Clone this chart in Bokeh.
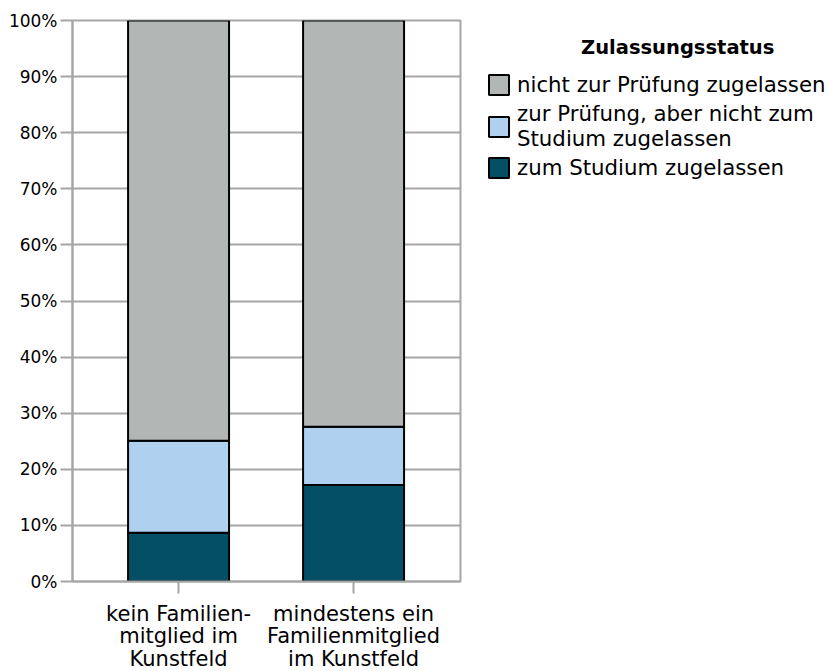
from bokeh.plotting import figure
from bokeh.models import ColumnDataSource, Legend, LegendItem, Range1d, FixedTicker
from bokeh.embed import file_html
from bokeh.resources import INLINE

categories = ["kein Familien-\nmitglied im\nKunstfeld", "mindestens ein\nFamilienmitglied\nim Kunstfeld"]
zum_studium = [8.7, 17.2]
zur_pruefung = [16.4, 10.4]
nicht_zugelassen = [74.9, 72.4]
series_names = ["zum Studium zugelassen", "zur Prüfung, aber nicht zum\nStudium zugelassen", "nicht zur Prüfung zugelassen"]
series_colors = ["#054f66", "#afd0ee", "#b2b6b5"]
y_ticks = [0, 10, 20, 30, 40, 50, 60, 70, 80, 90, 100]
legend_title = "Zulassungsstatus"

FONT = "DejaVu Sans"
GRID = "#a6a6a6"

xs = [i + 1 for i in range(len(categories))]
series = [zum_studium, zur_pruefung, nicht_zugelassen]

p = figure(frame_width=388, frame_height=561, output_backend="svg", toolbar_location=None,
           x_range=Range1d(0.394, 2.611), y_range=Range1d(0, 100),
           min_border_left=72, min_border_top=20, min_border_right=360, min_border_bottom=80)
p.outline_line_color = GRID
p.outline_line_width = 2
p.background_fill_color = "white"
p.border_fill_color = "white"

bottoms = [0.0] * len(xs)
renderers = []
for vals, col in zip(series, series_colors):
    tops = [b + v for b, v in zip(bottoms, vals)]
    src = ColumnDataSource(dict(x=xs, bottom=bottoms, top=tops))
    r = p.vbar(x="x", bottom="bottom", top="top", width=0.577, source=src,
               fill_color=col, line_color="black", line_width=2)
    renderers.append(r)
    bottoms = tops

# axes
p.xaxis.ticker = FixedTicker(ticks=xs)
p.xaxis.major_label_overrides = {x: c for x, c in zip(xs, categories)}
p.yaxis.ticker = FixedTicker(ticks=y_ticks)
p.yaxis.major_label_overrides = {t: f"{t}%" for t in y_ticks}
for ax in (p.xaxis[0], p.yaxis[0]):
    ax.axis_line_color = GRID
    ax.axis_line_width = 2
    ax.major_tick_line_color = GRID
    ax.major_tick_line_width = 2
    ax.major_tick_out = 12
    ax.major_tick_in = 0
    ax.minor_tick_line_color = None
    ax.major_label_text_font = FONT
    ax.major_label_text_color = "black"
p.yaxis.major_label_text_font_size = "17px"
p.yaxis.major_label_standoff = 3
p.xaxis.major_label_text_font_size = "21px"
p.xaxis.major_label_text_line_height = 0.95
p.xaxis.major_label_standoff = 8
p.xgrid.grid_line_color = None
p.ygrid.grid_line_color = GRID
p.ygrid.grid_line_width = 2

items = [LegendItem(label=n, renderers=[r]) for n, r in zip(series_names, renderers)]
items = items[::-1]
legend = Legend(items=items, location=(26, 401), orientation="vertical",
                title="\u00a0" * 14 + legend_title, title_standoff=13,
                title_text_font=FONT, title_text_font_size="19.5px", title_text_font_style="bold",
                title_text_color="black",
                glyph_width=25, glyph_height=25, label_standoff=6, spacing=4,
                padding=0, margin=0, border_line_color=None, background_fill_alpha=0,
                label_text_font=FONT, label_text_font_size="21.3px", label_text_color="black",
                label_text_line_height=1.15)
p.add_layout(legend, "right")

open("out.html", "w").write(file_html(p, INLINE))
